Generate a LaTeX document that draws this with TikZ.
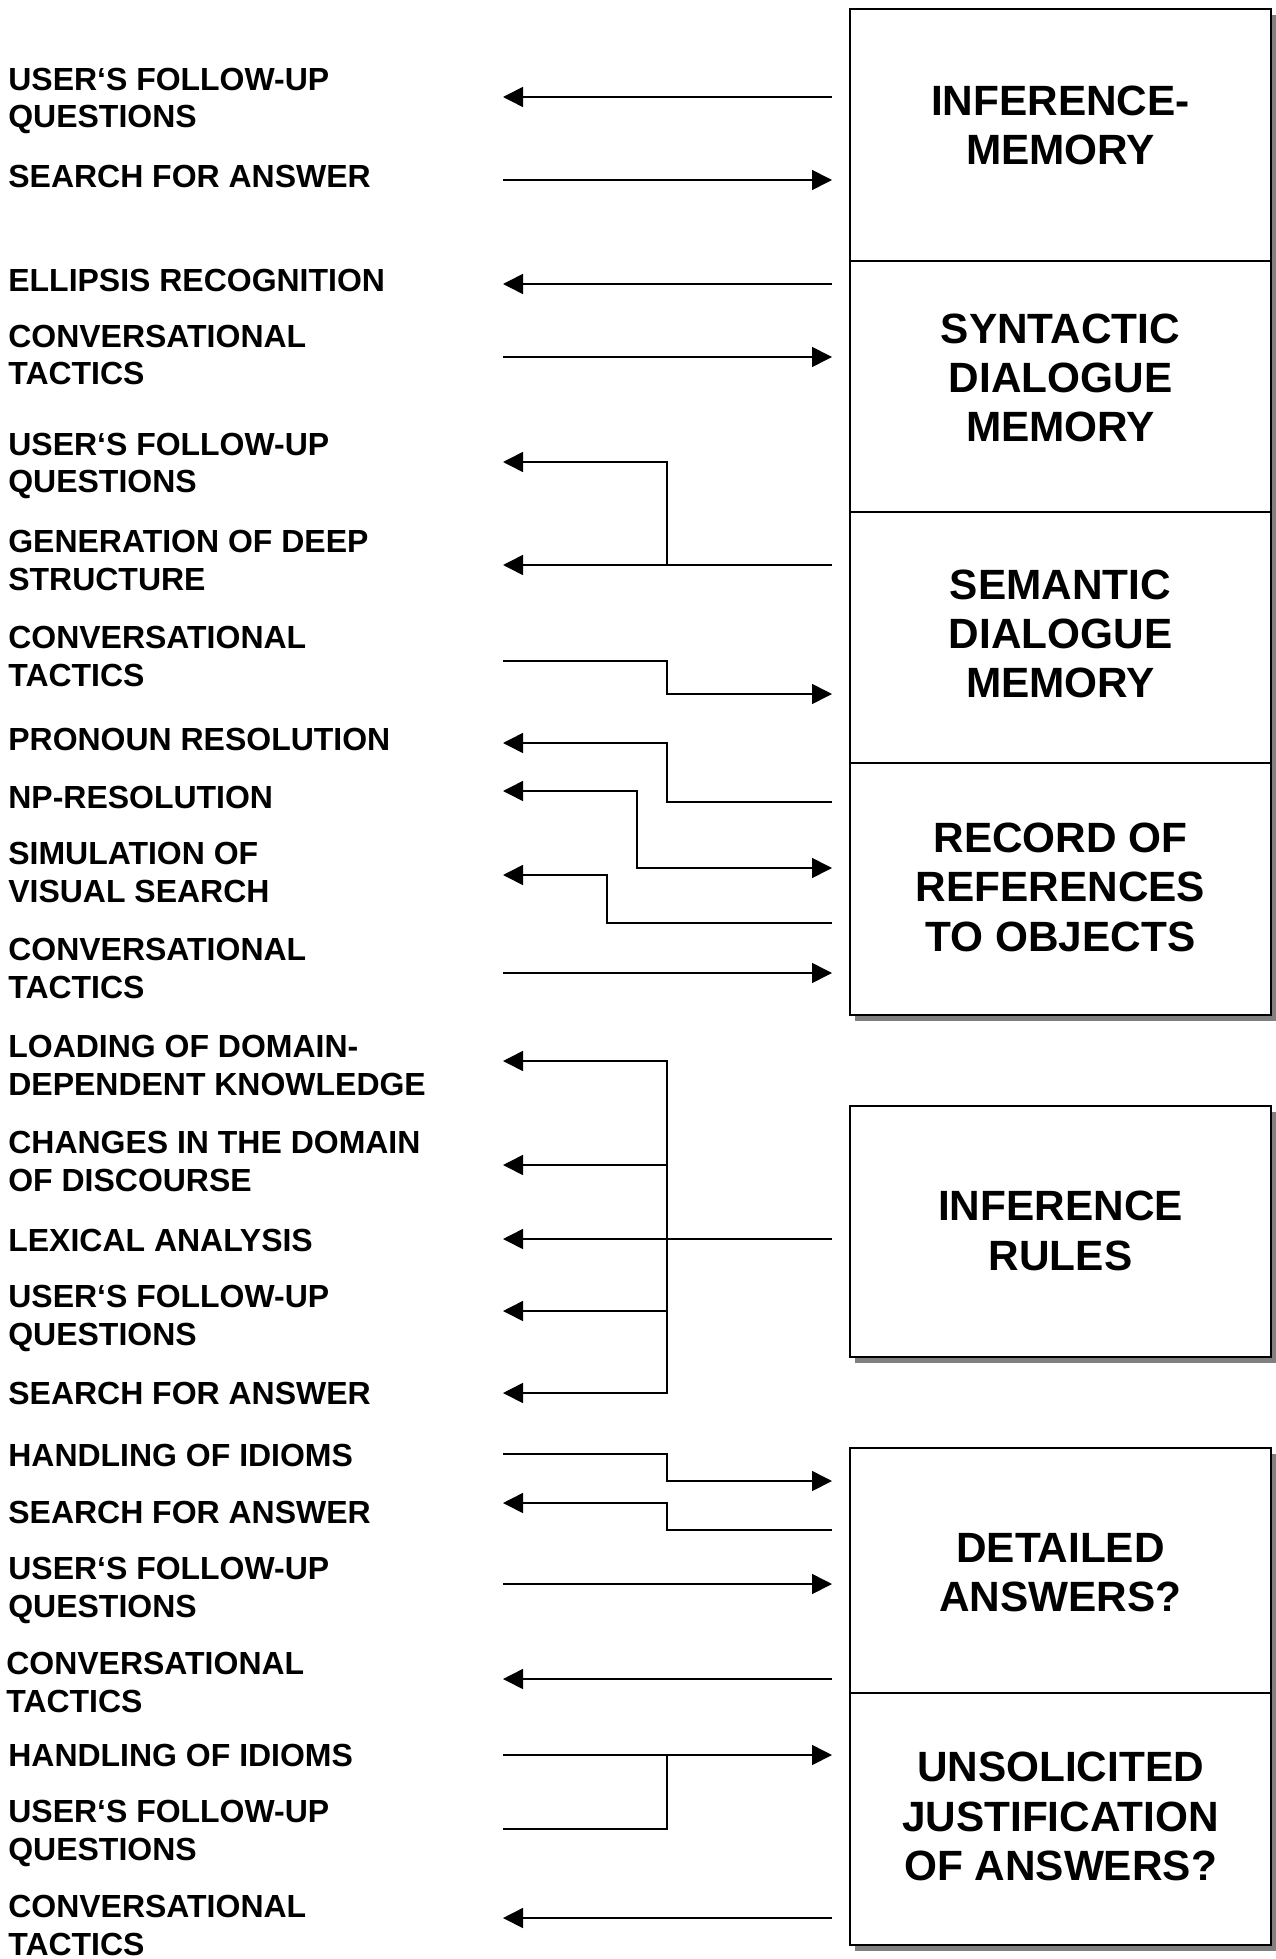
\documentclass[tikz,border=0pt]{standalone}
\usepackage{fontspec}
\setmainfont{Liberation Sans}
\usetikzlibrary{arrows.meta,shadows}

\tikzset{
  lbl/.style={anchor=base west, inner sep=0pt, align=left,
    font=\fontsize{18.2}{21.3}\selectfont\bfseries},
  memtxt/.style={anchor=base, inner sep=0pt, align=center,
    font=\fontsize{24.1}{27.9}\selectfont\bfseries},
  membox/.style={draw, line width=1.2pt, fill=white, inner sep=0pt,
    minimum width=8.42cm,
    drop shadow={shadow xshift=0.1cm, shadow yshift=-0.12cm, fill=black!50, opacity=1}},
  flow/.style={line width=0.9pt}
}

\begin{document}
\begin{tikzpicture}[x=0.02cm, y=-0.02cm, >={Triangle[length=0.4cm,width=0.4cm]}]
\useasboundingbox (0,0) rectangle (1275,1959);

% memory boxes
\node[membox, minimum height=5.04cm] (infmem)  at (1060.5,135) {};
\node[membox, minimum height=5.02cm] (syntmem) at (1060.5,386.5) {};
\node[membox, minimum height=5.02cm] (semmem)  at (1060.5,637.5) {};
\node[membox, minimum height=5.04cm] (refmem)  at (1060.5,889) {};
\node[membox, minimum height=5.02cm] (infrules) at (1060.5,1231.5) {};
\node[membox, minimum height=4.9cm]  (detans)  at (1060.5,1570.5) {};
\node[membox, minimum height=5.04cm] (unsjust) at (1060.5,1819) {};

% (multi-line texts sit on the baseline of their last line)
\node[memtxt] (infmemtxt)  at (1060.5,165)   {INFERENCE-\\MEMORY};
\node[memtxt] (syntmemtxt) at (1060.5,442) {SYNTACTIC\\DIALOGUE\\MEMORY};
\node[memtxt] (semmemtxt)  at (1060.5,697.5) {SEMANTIC\\DIALOGUE\\MEMORY};
\node[memtxt] (refmemtxt)  at (1060.5,951) {RECORD OF\\REFERENCES\\TO OBJECTS};
\node[memtxt] (infrulestxt) at (1060.5,1270) {INFERENCE\\RULES};
\node[memtxt] (detanstxt)  at (1060.5,1611.5) {DETAILED\\ANSWERS?};
\node[memtxt] (unsjusttxt) at (1060.5,1880)  {UNSOLICITED\\JUSTIFICATION\\OF ANSWERS?};

% processes
\node[lbl] (quest1)   at (8,128)  {USER‘S FOLLOW-UP\\QUESTIONS};
\node[lbl] (search1)  at (8,188)  {SEARCH FOR ANSWER};
\node[lbl] (ellipsis) at (8,292)  {ELLIPSIS RECOGNITION};
\node[lbl] (tactics1) at (8,385)  {CONVERSATIONAL\\TACTICS};
\node[lbl] (quest2)   at (8,493)  {USER‘S FOLLOW-UP\\QUESTIONS};
\node[lbl] (deepstr)  at (8,590)  {GENERATION OF DEEP\\STRUCTURE};
\node[lbl] (tactics2) at (8,686)  {CONVERSATIONAL\\TACTICS};
\node[lbl] (pronoun)  at (8,750)  {PRONOUN RESOLUTION};
\node[lbl] (npres)    at (8,808)  {NP-RESOLUTION};
\node[lbl] (visual)   at (8,902)  {SIMULATION OF\\VISUAL SEARCH};
\node[lbl] (tactics3) at (8,998)  {CONVERSATIONAL\\TACTICS};
\node[lbl] (loading)  at (8,1095) {LOADING OF DOMAIN-\\DEPENDENT KNOWLEDGE};
\node[lbl] (changes)  at (8,1191) {CHANGES IN THE DOMAIN\\OF DISCOURSE};
\node[lbl] (lexical)  at (8,1251) {LEXICAL ANALYSIS};
\node[lbl] (quest3)   at (8,1345) {USER‘S FOLLOW-UP\\QUESTIONS};
\node[lbl] (search2)  at (8,1404) {SEARCH FOR ANSWER};
\node[lbl] (idioms1)  at (8,1466) {HANDLING OF IDIOMS};
\node[lbl] (search3)  at (8,1523) {SEARCH FOR ANSWER};
\node[lbl] (quest4)   at (8,1617) {USER‘S FOLLOW-UP\\QUESTIONS};
\node[lbl] (tactics4) at (6,1712) {CONVERSATIONAL\\TACTICS};
\node[lbl] (idioms2)  at (8,1766) {HANDLING OF IDIOMS};
\node[lbl] (quest5)   at (8,1860) {USER‘S FOLLOW-UP\\QUESTIONS};
\node[lbl] (tactics5) at (8,1955) {CONVERSATIONAL\\TACTICS};

% columns of the connectors
\coordinate (rx) at (832,0);
\coordinate (mx) at (667,0);
\coordinate (nx) at (637,0);
\coordinate (sx) at (607,0);

% free ends
\coordinate (a1)  at (503,97);
\coordinate (a2)  at (503,180);
\coordinate (a3)  at (503,284);
\coordinate (a4)  at (503,357);
\coordinate (a5)  at (503,462);
\coordinate (a6)  at (503,565);
\coordinate (a7)  at (503,661);   \coordinate (b7)  at (832,694);
\coordinate (a8)  at (503,743);   \coordinate (b8)  at (832,802);
\coordinate (a9)  at (503,791);   \coordinate (b9)  at (832,868);
\coordinate (a10) at (503,875);   \coordinate (b10) at (832,923);
\coordinate (a11) at (503,973);
\coordinate (a12) at (503,1061);
\coordinate (a13) at (503,1165);
\coordinate (a14) at (503,1239);
\coordinate (a15) at (503,1311);
\coordinate (a16) at (503,1393);
\coordinate (a17) at (503,1454);  \coordinate (b17) at (832,1481);
\coordinate (a18) at (503,1503);  \coordinate (b18) at (832,1530);
\coordinate (a19) at (503,1584);
\coordinate (a20) at (503,1679);
\coordinate (a21) at (503,1755);
\coordinate (a22) at (503,1829);
\coordinate (a23) at (503,1918);

% inference memory
\draw[flow,->] (a1 -| rx) -- (a1);
\draw[flow,->] (a2) -- (a2 -| rx);
% syntactic dialogue memory
\draw[flow,->] (a3 -| rx) -- (a3);
\draw[flow,->] (a4) -- (a4 -| rx);
% semantic dialogue memory
\draw[flow,->] (a6 -| rx) -- (a6);
\draw[flow,->] (a6 -| mx) |- (a5);
\draw[flow,->] (a7) -- (a7 -| mx) |- (b7);
% record of references
\draw[flow,->] (b8) -- (b8 -| mx) |- (a8);
\draw[flow,<->] (a9) -- (a9 -| nx) |- (b9);
\draw[flow,->] (b10) -- (b10 -| sx) |- (a10);
\draw[flow,->] (a11) -- (a11 -| rx);
% inference rules
\draw[flow,->] (a14 -| rx) -- (a14);
\draw[flow,<->] (a12) -| (a16 -| mx) -- (a16);
\draw[flow,->] (a13 -| mx) -- (a13);
\draw[flow,->] (a15 -| mx) -- (a15);
% detailed answers
\draw[flow,->] (a17) -- (a17 -| mx) |- (b17);
\draw[flow,->] (b18) -- (b18 -| mx) |- (a18);
\draw[flow,->] (a19) -- (a19 -| rx);
\draw[flow,->] (a20 -| rx) -- (a20);
% unsolicited justification
\draw[flow,->] (a21) -- (a21 -| rx);
\draw[flow] (a22) -| (a21 -| mx);
\draw[flow,->] (a23 -| rx) -- (a23);

\end{tikzpicture}
\end{document}
